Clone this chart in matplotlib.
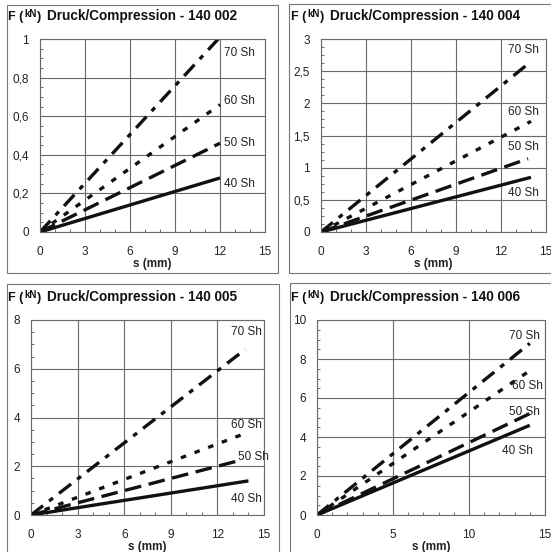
import matplotlib
matplotlib.use("Agg")
import matplotlib.pyplot as plt
from matplotlib.ticker import MultipleLocator, FuncFormatter
from matplotlib.patches import Rectangle

plt.rcParams["font.family"] = ["Liberation Sans", "DejaVu Sans"]
plt.rcParams["lines.scale_dashes"] = False

W, H = 551, 552

# ---- data -------------------------------------------------------------
titles = ["Druck/Compression - 140 002", "Druck/Compression - 140 004",
          "Druck/Compression - 140 005", "Druck/Compression - 140 006"]
series_names = ["40 Sh", "50 Sh", "60 Sh", "70 Sh"]

# end points of each hardness curve (all curves start at the origin)
s_002 = [12, 12, 12, 12]
F_002 = [0.28, 0.46, 0.66, 1.01]
s_004 = [14, 13.8, 14, 14]
F_004 = [0.85, 1.14, 1.72, 2.65]
s_005 = [14, 13.5, 14, 13.8]
F_005 = [1.4, 2.25, 3.4, 6.8]
s_006 = [14, 14, 14, 14]
F_006 = [4.6, 5.2, 7.4, 8.8]

y_max = [1, 3, 8, 10]
y_major = [0.2, 0.5, 2, 2]
x_major = [3, 3, 3, 5]

# label anchor positions (s, F) for the series names
lab_s_002 = [12.3, 12.3, 12.3, 12.3]
lab_F_002 = [0.25, 0.46, 0.68, 0.93]
lab_s_004 = [12.5, 12.5, 12.5, 12.5]
lab_F_004 = [0.6, 1.32, 1.87, 2.83]
lab_s_005 = [12.9, 13.3, 12.9, 12.9]
lab_F_005 = [0.65, 2.4, 3.7, 7.5]
lab_s_006 = [12.2, 12.6, 12.8, 12.6]
lab_F_006 = [3.3, 5.3, 6.6, 9.2]

# ---- styles -----------------------------------------------------------
styles = [
    dict(linestyle="-"),
    dict(linestyle=(0, (12, 5.5))),
    dict(linestyle=(0, (4, 6.5))),
    dict(linestyle=(0, (11, 5.5, 3.5, 5.5))),
]

fig = plt.figure(figsize=(W / 100, H / 100), dpi=100)


def fx(px):
    return px / W


def fy(py):
    return 1 - py / H


# panel layout in pixels: axes (left, right, top, bottom), frame (l, r, t, b), heading row
layout = [
    dict(ax=(40, 265, 39, 232), frame=(7, 278, 5, 273), ty=17, fxl=8),
    dict(ax=(321, 546, 39, 232), frame=(289, 560, 4, 273), ty=17, fxl=291),
    dict(ax=(31, 264, 320, 515), frame=(7, 279, 284, 560), ty=298, fxl=8),
    dict(ax=(317, 545, 320, 515), frame=(290, 560, 283, 560), ty=298, fxl=291),
]

data = [(s_002, F_002, lab_s_002, lab_F_002),
        (s_004, F_004, lab_s_004, lab_F_004),
        (s_005, F_005, lab_s_005, lab_F_005),
        (s_006, F_006, lab_s_006, lab_F_006)]

comma = FuncFormatter(lambda v, p: f"{v:g}".replace(".", ","))
ink = "#111111"

for i, lay in enumerate(layout):
    l, r, t, b = lay["ax"]
    ax = fig.add_axes([fx(l), fy(b), fx(r) - fx(l), fy(t) - fy(b)])
    s_end, F_end, ls_, lf_ = data[i]
    for k in range(4):
        ax.plot([0, s_end[k]], [0, F_end[k]], color=ink, lw=2.4,
                solid_capstyle="butt", dash_capstyle="butt", **styles[k])
        ax.text(ls_[k], lf_[k], series_names[k], fontsize=8.5, ha="left",
                va="center", color="#222222")
    ax.set_xlim(0, 15)
    ax.set_ylim(0, y_max[i])
    ax.xaxis.set_major_locator(MultipleLocator(x_major[i]))
    ax.yaxis.set_major_locator(MultipleLocator(y_major[i]))
    ax.xaxis.set_minor_locator(MultipleLocator(1))
    ax.yaxis.set_minor_locator(MultipleLocator(y_major[i] / 4))
    ax.yaxis.set_major_formatter(comma)
    ax.tick_params(which="major", length=0, labelsize=8.5, colors="#222222")
    ax.tick_params(axis="x", which="major", pad=10)
    ax.tick_params(axis="y", which="major", pad=8)
    ax.tick_params(which="minor", direction="in", length=2.5, width=0.6,
                   color="#555555")
    ax.grid(True, which="major", color="#6a6a6a", lw=0.8)
    for sp in ax.spines.values():
        sp.set_color("#6a6a6a")
        sp.set_linewidth(0.8)
    ax.set_xlabel("s (mm)", fontsize=8.5, fontweight="bold", labelpad=0,
                  color="#222222")
    ax.set_axisbelow(True)

    # panel frame
    fl, fr, ft, fb = lay["frame"]
    fig.patches.append(Rectangle((fx(fl), fy(fb)), fx(fr) - fx(fl), fy(ft) - fy(fb),
                                 transform=fig.transFigure, fill=False,
                                 edgecolor="#777777", lw=0.8))

    # heading: "F (kN)" with a small unit, followed by the title
    t1 = fig.text(fx(lay["fxl"]), fy(lay["ty"]), "F (", fontsize=9,
                  fontweight="bold", va="center", ha="left", color=ink)
    a2 = fig.add_artist(plt.Annotation("kN", xy=(1, 0.3), xycoords=t1,
                                       xytext=(0.5, 0), textcoords="offset points",
                                       fontsize=7, fontweight="bold",
                                       ha="left", va="bottom", color=ink))
    a3 = fig.add_artist(plt.Annotation(")", xy=(1, 0), xycoords=(a2, t1),
                                       xytext=(0.5, 0), textcoords="offset points",
                                       fontsize=9, fontweight="bold",
                                       ha="left", va="bottom", color=ink))
    fig.add_artist(plt.Annotation(titles[i], xy=(1, 0), xycoords=a3,
                                  xytext=(4, 0), textcoords="offset points",
                                  fontsize=9.8, fontweight="bold",
                                  ha="left", va="bottom", color=ink))

fig.savefig("out.png", dpi=100, facecolor="white")
